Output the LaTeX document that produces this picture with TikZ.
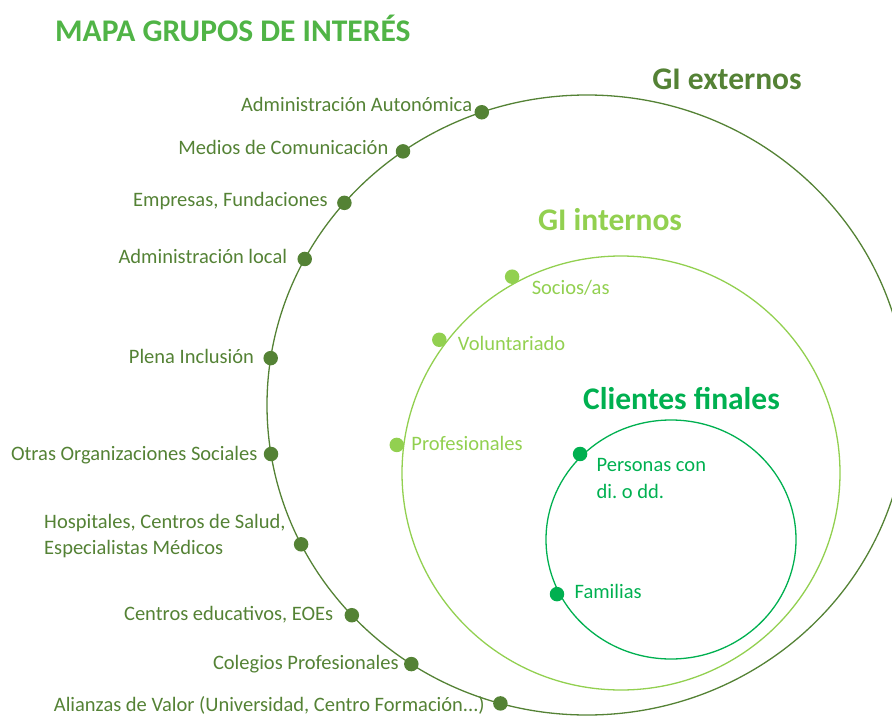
\documentclass[tikz,border=0pt]{standalone}
\usepackage{fontspec}
\setmainfont{Carlito}
\usepackage{tikz}
\usetikzlibrary{positioning, calc}
\frenchspacing
\definecolor{titlegreen}{RGB}{80, 180, 70}
\definecolor{extgreen}{RGB}{84, 130, 53}
\definecolor{intgreen}{RGB}{146, 208, 80}
\definecolor{cligreen}{RGB}{0, 176, 80}
\tikzset{
    ring/.style={
        line width=1.3pt
    },
    dotnode/.style={
        circle,
        inner sep=0pt,
        minimum size=14.5pt
    },
    lbl/.style={
        inner sep=0pt,
        font=\fontsize{20.5}{26.5}\selectfont,
        text height=13.2pt,
        text depth=0pt
    },
    lbltwo/.style={
        inner sep=0pt,
        align=left,
        font=\fontsize{20.5}{26.5}\selectfont
    },
    heading/.style={
        inner sep=0pt,
        anchor=base,
        font=\fontsize{31.5}{36}\selectfont\bfseries
    }
}
\begin{document}
\begin{tikzpicture}[x=1pt, y=1pt]
        \useasboundingbox (0,0) rectangle (892,-717);

        % --- TITLE ---
        \node (title) [heading, anchor=base west, text=titlegreen] at (55,-42) {MAPA GRUPOS DE INTERÉS};

        % --- RINGS ---
        \coordinate (ext_c) at (587,-405);
        \coordinate (int_c) at (621,-473);
        \coordinate (cli_c) at (671,-539.5);
        \draw [ring, extgreen] (ext_c) ellipse (320 and 310);
        \draw [ring, intgreen] (int_c) ellipse (219 and 217);
        \draw [ring, cligreen] (cli_c) ellipse (125 and 119.5);

        \node (ext_title) [heading, text=extgreen] at (727,-89) {GI externos};
        \node (int_title) [heading, text=intgreen] at (610,-230) {GI internos};
        \node (cli_title) [heading, text=cligreen] at (681.5,-409) {Clientes finales};

        % --- GI EXTERNOS (outer ring) ---
        \node (aut_dot) [dotnode, fill=extgreen] at ($(ext_c)+(109.2:320 and 310)$) {};
        \node (med_dot) [dotnode, fill=extgreen] at ($(ext_c)+(125.1:320 and 310)$) {};
        \node (emp_dot) [dotnode, fill=extgreen] at ($(ext_c)+(139.3:320 and 310)$) {};
        \node (loc_dot) [dotnode, fill=extgreen] at ($(ext_c)+(151.9:320 and 310)$) {};
        \node (ple_dot) [dotnode, fill=extgreen] at ($(ext_c)+(171.3:320 and 310)$) {};
        \node (otr_dot) [dotnode, fill=extgreen] at ($(ext_c)+(189.1:320 and 310)$) {};
        \node (hos_dot) [dotnode, fill=extgreen] at ($(ext_c)+(206.7:320 and 310)$) {};
        \node (edu_dot) [dotnode, fill=extgreen] at ($(ext_c)+(222.7:320 and 310)$) {};
        \node (col_dot) [dotnode, fill=extgreen] at ($(ext_c)+(236.7:320 and 310)$) {};
        \node (ali_dot) [dotnode, fill=extgreen] at ($(ext_c)+(254.3:320 and 310)$) {};

        \node (aut_lbl) [lbl, text=extgreen, left=2pt of aut_dot, yshift=7pt] {Administración Autonómica};
        \node (med_lbl) [lbl, text=extgreen, left=7pt of med_dot, yshift=3pt] {Medios de Comunicación};
        \node (emp_lbl) [lbl, text=extgreen, left=9pt of emp_dot, yshift=3pt] {Empresas, Fundaciones};
        \node (loc_lbl) [lbl, text=extgreen, left=10pt of loc_dot, yshift=2pt] {Administración local};
        \node (ple_lbl) [lbl, text=extgreen, left=9pt of ple_dot, yshift=1pt] {Plena Inclusión};
        \node (otr_lbl) [lbl, text=extgreen, left=6pt of otr_dot] {Otras Organizaciones Sociales};
        \node (hos_lbl) [lbltwo, text=extgreen, left=8pt of hos_dot, yshift=8.5pt] {Hospitales, Centros de Salud,\\Especialistas Médicos};
        \node (edu_lbl) [lbl, text=extgreen, left=11pt of edu_dot, yshift=1pt] {Centros educativos, EOEs};
        \node (col_lbl) [lbl, text=extgreen, left=5pt of col_dot, yshift=1pt] {Colegios Profesionales};
        \node (ali_lbl) [lbl, text=extgreen, left=8pt of ali_dot, yshift=-1pt] {Alianzas de Valor (Universidad, Centro Formación...)};

        % --- GI INTERNOS (middle ring) ---
        \node (soc_dot) [dotnode, fill=intgreen] at ($(int_c)+(118.8:226 and 224)$) {};
        \node (vol_dot) [dotnode, fill=intgreen] at ($(int_c)+(143.5:226 and 224)$) {};
        \node (pro_dot) [dotnode, fill=intgreen] at ($(int_c)+(172.8:226 and 224)$) {};

        \node (soc_lbl) [lbl, text=intgreen, right=12pt of soc_dot, yshift=-11pt] {Socios/as};
        \node (vol_lbl) [lbl, text=intgreen, right=11pt of vol_dot, yshift=-4pt] {Voluntariado};
        \node (pro_lbl) [lbl, text=intgreen, right=7pt of pro_dot, yshift=1pt] {Profesionales};

        % --- CLIENTES FINALES (inner ring) ---
        \node (per_dot) [dotnode, fill=cligreen] at ($(cli_c)+(135.5:127.5 and 122)$) {};
        \node (fam_dot) [dotnode, fill=cligreen] at ($(cli_c)+(206.6:127.5 and 122)$) {};

        \node (per_lbl) [lbltwo, text=cligreen, right=9pt of per_dot, yshift=-24.5pt] {Personas con\\di. o dd.};
        \node (fam_lbl) [lbl, text=cligreen, right=10pt of fam_dot, yshift=2pt] {Familias};
    \end{tikzpicture}
\end{document}
